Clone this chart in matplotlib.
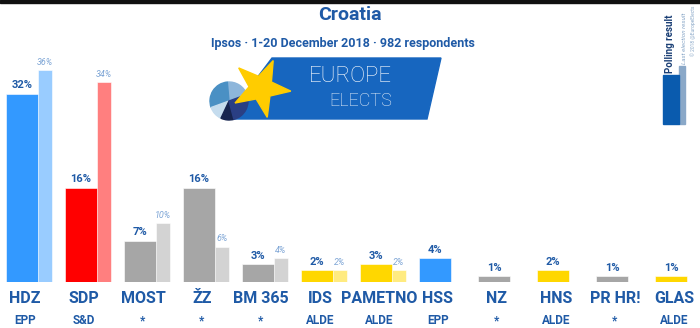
import numpy as np
import matplotlib.pyplot as plt
from matplotlib.patches import Polygon, Rectangle, Wedge

# poll data
parties = ['HDZ', 'SDP', 'MOST', 'ŽZ', 'BM 365', 'IDS', 'PAMETNO', 'HSS', 'NZ', 'HNS', 'PR HR!', 'GLAS']
groups = ['EPP', 'S&D', '*', '*', '*', 'ALDE', 'ALDE', 'EPP', '*', 'ALDE', '*', 'ALDE']
poll = [32, 16, 7, 16, 3, 2, 3, 4, 1, 2, 1, 1]
last = [36, 34, 10, 6, 4, 2, 2, None, None, None, None, None]
colors = ['#3399FF', '#FF0000', '#A6A6A6', '#A6A6A6', '#A6A6A6', '#FFD700', '#FFD700',
          '#3399FF', '#A6A6A6', '#FFD700', '#A6A6A6', '#FFD700']
light_colors = ['#99CCFF', '#FF7F7F', '#D3D3D3', '#D3D3D3', '#D3D3D3', '#FFEB80', '#FFEB80',
                '#99CCFF', '#D3D3D3', '#FFEB80', '#D3D3D3', '#FFEB80']

TXT = '#1F5AA6'
plt.rcParams['font.family'] = ['Roboto', 'DejaVu Sans']

fig = plt.figure(figsize=(7, 3.28), dpi=100)

# main chart axes: baseline at y=282 px, 1% ~ 5.88 px, groups every 59 px
ax = fig.add_axes([0, 46 / 328, 1, 235.2 / 328])
ax.set_ylim(0, 40)
ax.set_xlim(-22 / 59, 678 / 59)
ax.axis('off')

x = np.arange(len(parties))
w_main = 32 / 59
w_last = 14 / 59
off = 23 / 59

ax.bar(x, poll, width=w_main, color=colors, edgecolor='white', linewidth=0.4, zorder=2)
for i, v in enumerate(last):
    if v is None:
        continue
    ax.bar(x[i] + off, v, width=w_last, color=light_colors[i], edgecolor='white', linewidth=0.4, zorder=1)
    ax.text(x[i] + off, v + 0.6, f'{v}%', ha='center', va='bottom', fontsize=6.5,
            style='italic', color='#7FA6D6')

for i, v in enumerate(poll):
    ax.text(x[i], v + 0.6, f'{v}%', ha='center', va='bottom', fontsize=8,
            fontweight='bold', color=TXT)
    ax.text(x[i] + 0.05, -2.75, parties[i], ha='center', va='center', fontsize=11.5,
            fontweight='bold', color=TXT, clip_on=False)
    ax.text(x[i] + 0.05, -6.55, groups[i], ha='center', va='center', fontsize=8.5,
            fontweight='bold', color=TXT, clip_on=False)

# overlay in pixel coordinates for header, logo and legend
ov = fig.add_axes([0, 0, 1, 1], zorder=3)
ov.set_xlim(0, 700)
ov.set_ylim(328, 0)
ov.axis('off')

ov.add_patch(Rectangle((0, 0), 700, 3, color='#111111'))
ov.text(350, 15, 'Croatia', ha='center', va='center', fontsize=14, fontweight='bold', color=TXT)
ov.text(343, 44, 'Ipsos · 1-20 December 2018 · 982 respondents', ha='center', va='center',
        fontsize=9, fontweight='bold', color=TXT)

# Europe Elects logo
ov.add_patch(Polygon([(272, 58), (441, 58), (427, 119), (226, 119)], closed=True,
                     color='#1766BF'))
pie_cols = ['#8DB6DB', '#4A90C4', '#C5DCEE', '#16244F', '#2A3F84']
pie_ang = [(20, 95), (95, 200), (200, 245), (245, 285), (285, 380)]
for c, (a1, a2) in zip(pie_cols, pie_ang):
    ov.add_patch(Wedge((229, 101), 19, -a2, -a1, color=c))
ang = np.deg2rad(np.arange(10) * 36 - 90 + 24)
rad = np.where(np.arange(10) % 2 == 0, 30, 12)
ov.add_patch(Polygon(np.c_[261 + rad * np.cos(ang), 88 + rad * np.sin(ang)], color='#FFCC00'))
ov.text(392, 76, 'EUROPE', ha='right', va='center', fontsize=16, fontweight='light', color='white')
ov.text(392, 101, 'ELECTS', ha='right', va='center', fontsize=13, fontweight='light', color='#E6EEF8')

# legend on the right
ov.add_patch(Rectangle((679, 66), 6, 58, color='#8AA8C8'))
ov.add_patch(Rectangle((663, 75), 16, 49, color='#0A5BAE'))
ov.text(670, 73, 'Polling result', rotation=90, ha='center', va='bottom', fontsize=7,
        fontweight='bold', color='#1B3F75')
ov.text(684, 64, 'Last election result', rotation=90, ha='center', va='bottom', fontsize=4.5,
        style='italic', color='#8AA8C8')
ov.text(693, 56, '© 2018 @EuropeElects', rotation=90, ha='center', va='bottom', fontsize=3.5,
        color='#8AA8C8')

fig.savefig('out.png', dpi=100)
